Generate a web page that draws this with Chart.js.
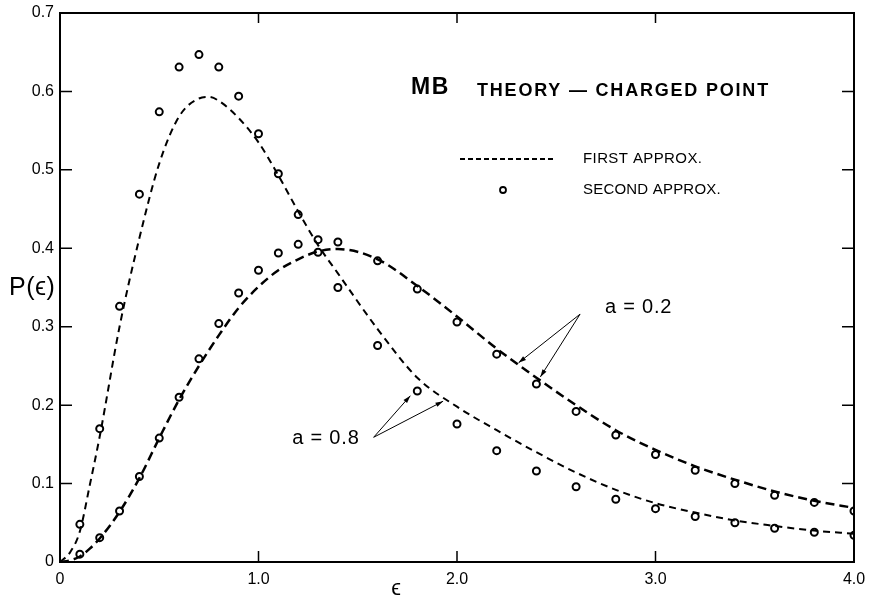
<!DOCTYPE html>
<html lang="en">
<head>
<meta charset="UTF-8" />
<title>MB theory - charged point</title>
<script src="https://cdn.jsdelivr.net/npm/chart.js"></script>
<style>
  html, body { margin: 0; padding: 0; background: #fff; }
  canvas { display: block; }
</style>
</head>
<body>
<canvas id="chart" width="869" height="600"></canvas>
<script>
// epsilon values of the computed (second approx.) points
const pointEps = [0.1, 0.2, 0.3, 0.4, 0.5, 0.6, 0.7, 0.8, 0.9, 1.0, 1.1, 1.2, 1.3, 1.4,
  1.6, 1.8, 2.0, 2.2, 2.4, 2.6, 2.8, 3.0, 3.2, 3.4, 3.6, 3.8, 4.0]
const second08 = [0.048, 0.170, 0.326, 0.469, 0.574, 0.631, 0.647, 0.631, 0.594, 0.546, 0.495, 0.443, 0.395, 0.350,
  0.276, 0.218, 0.176, 0.142, 0.116, 0.096, 0.080, 0.068, 0.058, 0.050, 0.043, 0.038, 0.034]
const second02 = [0.010, 0.031, 0.065, 0.109, 0.158, 0.210, 0.259, 0.304, 0.343, 0.372, 0.394, 0.405, 0.411, 0.408,
  0.384, 0.348, 0.306, 0.265, 0.227, 0.192, 0.162, 0.137, 0.117, 0.100, 0.085, 0.076, 0.065]

// first approximation curves
const curveEps = [0, 0.05, 0.1, 0.15, 0.2, 0.3, 0.4, 0.5, 0.6, 0.7, 0.75, 0.8, 0.9, 1.0, 1.1, 1.2, 1.3, 1.4,
  1.6, 1.8, 2.0, 2.2, 2.4, 2.6, 2.8, 3.0, 3.2, 3.4, 3.6, 3.8, 4.0]
const first08 = [0, 0.012, 0.039, 0.098, 0.160, 0.300, 0.413, 0.508, 0.568, 0.591, 0.593, 0.588, 0.566, 0.535, 0.493, 0.447, 0.404, 0.368,
  0.297, 0.235, 0.198, 0.168, 0.140, 0.114, 0.092, 0.075, 0.063, 0.053, 0.046, 0.040, 0.036]
const first02 = [0, 0.002, 0.007, 0.017, 0.030, 0.064, 0.107, 0.158, 0.207, 0.250, 0.270, 0.289, 0.324, 0.351, 0.372, 0.386, 0.396, 0.399,
  0.386, 0.352, 0.313, 0.272, 0.235, 0.200, 0.168, 0.143, 0.122, 0.105, 0.090, 0.078, 0.069]

const yTicks = [0, 0.1, 0.2, 0.3, 0.4, 0.5, 0.6, 0.7]
const xTicks = [0, 1, 2, 3, 4]

// labels with arrows: text anchor and arrow tips, in data units
const labelA02 = { text: 'a = 0.2', at: [2.745, 0.325], from: [2.62, 0.316], tips: [[2.31, 0.254], [2.42, 0.236]] }
const labelA08 = { text: 'a = 0.8', at: [1.17, 0.158], from: [1.58, 0.159], tips: [[1.765, 0.212], [1.93, 0.205]] }

const FONT = '"Liberation Sans", Arial, sans-serif'

const toXY = (xs, ys) => xs.map((x, i) => ({ x: x, y: ys[i] }))

function arrow(ctx, x0, y0, x1, y1) {
    ctx.beginPath()
    ctx.moveTo(x0, y0)
    ctx.lineTo(x1, y1)
    ctx.stroke()
    let ang = Math.atan2(y1 - y0, x1 - x0)
    let len = 8
    ctx.beginPath()
    ctx.moveTo(x1, y1)
    ctx.lineTo(x1 - len * Math.cos(ang - 0.3), y1 - len * Math.sin(ang - 0.3))
    ctx.lineTo(x1 - len * Math.cos(ang + 0.3), y1 - len * Math.sin(ang + 0.3))
    ctx.closePath()
    ctx.fill()
}

function text(ctx, str, x, y, font, spacing) {
    ctx.font = font
    ctx.letterSpacing = (spacing || 0) + 'px'
    ctx.fillText(str, x, y)
    ctx.letterSpacing = '0px'
}

const framePlugin = {
    id: 'frame',
    afterDraw(chart) {
        const ctx = chart.ctx
        const a = chart.chartArea
        const xs = chart.scales.x
        const ys = chart.scales.y
        ctx.save()
        ctx.strokeStyle = '#000'
        ctx.fillStyle = '#000'
        ctx.lineWidth = 2
        ctx.strokeRect(a.left, a.top, a.right - a.left, a.bottom - a.top)

        // inward ticks on all four sides
        ctx.lineWidth = 1.5
        ctx.beginPath()
        yTicks.slice(1, -1).forEach(v => {
            let py = ys.getPixelForValue(v)
            ctx.moveTo(a.left, py); ctx.lineTo(a.left + 12, py)
            ctx.moveTo(a.right, py); ctx.lineTo(a.right - 12, py)
        })
        xTicks.slice(1, -1).forEach(v => {
            let px = xs.getPixelForValue(v)
            ctx.moveTo(px, a.top); ctx.lineTo(px, a.top + 10)
            ctx.moveTo(px, a.bottom); ctx.lineTo(px, a.bottom - 11)
        })
        ctx.stroke()

        // axis titles
        ctx.textBaseline = 'middle'
        ctx.textAlign = 'left'
        text(ctx, 'P(\u03F5)', 9, 288, '25px ' + FONT, 0.5)
        ctx.textAlign = 'center'
        text(ctx, '\u03F5', 396, 589, '22px ' + FONT)

        // heading and key
        ctx.textAlign = 'left'
        text(ctx, 'MB', 411, 88, 'bold 23px ' + FONT, 1.5)
        text(ctx, 'THEORY \u2014 CHARGED POINT', 477, 91, 'bold 18px ' + FONT, 1.8)

        ctx.lineWidth = 2.2
        ctx.setLineDash([5, 3])
        ctx.beginPath()
        ctx.moveTo(460, 159); ctx.lineTo(555, 159)
        ctx.stroke()
        ctx.setLineDash([])
        ctx.lineWidth = 1.8
        ctx.beginPath()
        ctx.arc(503, 190, 3, 0, Math.PI * 2)
        ctx.stroke()
        text(ctx, 'FIRST APPROX.', 583, 159, '15px ' + FONT, 0.4)
        text(ctx, 'SECOND APPROX.', 583, 190, '15px ' + FONT, 0.2)

        // value labels with arrows
        ctx.lineWidth = 1
        ;[labelA02, labelA08].forEach(l => {
            let tx = xs.getPixelForValue(l.at[0])
            let ty = ys.getPixelForValue(l.at[1])
            text(ctx, l.text, tx, ty, '20px ' + FONT, 0.8)
            let fx = xs.getPixelForValue(l.from[0])
            let fy = ys.getPixelForValue(l.from[1])
            l.tips.forEach(t => arrow(ctx, fx, fy, xs.getPixelForValue(t[0]), ys.getPixelForValue(t[1])))
        })
        ctx.restore()
    }
}

new Chart(document.getElementById('chart'), {
    type: 'scatter',
    data: {
        datasets: [
            {
                label: 'first a=0.8', data: toXY(curveEps, first08), showLine: true,
                borderColor: '#000', borderWidth: 2, borderDash: [7, 5],
                pointRadius: 0, cubicInterpolationMode: 'monotone'
            },
            {
                label: 'first a=0.2', data: toXY(curveEps, first02), showLine: true,
                borderColor: '#000', borderWidth: 2.5, borderDash: [9, 5],
                pointRadius: 0, cubicInterpolationMode: 'monotone'
            },
            {
                label: 'second a=0.8', data: toXY(pointEps, second08),
                pointRadius: 3.5, pointBorderWidth: 2, borderColor: '#000', backgroundColor: '#fff'
            },
            {
                label: 'second a=0.2', data: toXY(pointEps, second02),
                pointRadius: 3.5, pointBorderWidth: 2, borderColor: '#000', backgroundColor: '#fff'
            }
        ]
    },
    options: {
        responsive: false,
        animation: false,
        layout: { padding: { left: 0, right: 15, top: 13, bottom: 0 } },
        plugins: { legend: { display: false }, tooltip: { enabled: false } },
        scales: {
            x: {
                type: 'linear', min: 0, max: 4,
                // end labels may overhang the frame, so drop the extra side padding
                afterFit: s => { s.height = 38; s.paddingLeft = 0; s.paddingRight = 0 },
                afterBuildTicks: s => { s.ticks = xTicks.map(v => ({ value: v })) },
                grid: { display: false, drawTicks: false },
                border: { display: false },
                ticks: {
                    color: '#000', padding: 8, font: { family: FONT, size: 16 },
                    callback: v => v === 0 ? '0' : v.toFixed(1)
                }
            },
            y: {
                type: 'linear', min: 0, max: 0.7,
                afterFit: s => { s.width = 60; s.paddingTop = 0; s.paddingBottom = 0 },
                afterBuildTicks: s => { s.ticks = yTicks.map(v => ({ value: v })) },
                grid: { display: false, drawTicks: false },
                border: { display: false },
                ticks: {
                    color: '#000', padding: 6, font: { family: FONT, size: 16 },
                    callback: v => v === 0 ? '0' : v.toFixed(1)
                }
            }
        }
    },
    plugins: [framePlugin]
})
</script>
</body>
</html>
